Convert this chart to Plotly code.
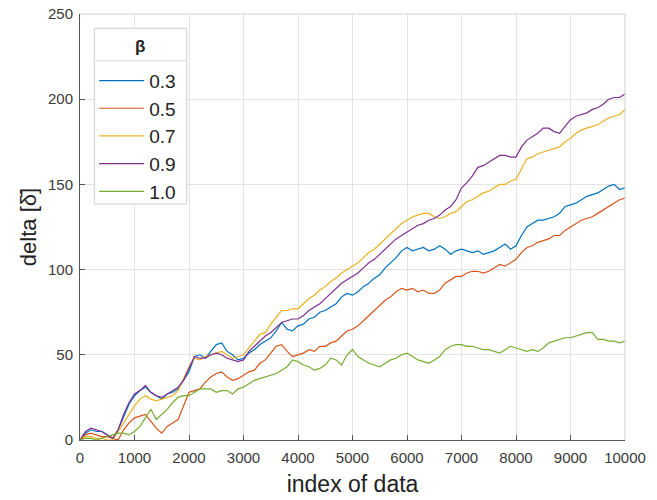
import plotly.graph_objects as go

x_index = list(range(0, 10001, 100))

beta_labels = ["0.3", "0.5", "0.7", "0.9", "1.0"]
legend_title = "β"

delta_b03 = [0, 4, 6, 5, 5, 3, 1, 6, 14, 21, 26, 29, 31, 28, 26, 24, 27, 28, 30, 35,
             40, 49, 50, 48, 52, 56, 57, 52, 50, 47, 48, 51, 53, 56, 58, 60, 64, 69, 65, 64,
             67, 68, 71, 72, 75, 76, 78, 80, 84, 86, 85, 87, 90, 92, 95, 97, 101, 104, 107, 111,
             113, 111, 112, 113, 111, 112, 114, 112, 109, 111, 112, 111, 110, 111, 109, 110, 111, 113, 115, 112,
             114, 120, 125, 127, 129, 129, 130, 131, 133, 137, 138, 139, 141, 143, 144, 145, 147, 149, 150, 147,
             148]

delta_b05 = [0, 3, 4, 3, 2, 2, 1, 0, 6, 10, 13, 14, 15, 11, 7, 4, 8, 10, 12, 20,
             28, 29, 30, 34, 37, 39, 40, 37, 35, 36, 38, 40, 41, 45, 47, 51, 55, 56, 52, 49,
             50, 51, 53, 52, 55, 55, 57, 58, 61, 64, 65, 67, 70, 73, 76, 79, 82, 84, 87, 89,
             88, 89, 87, 88, 86, 86, 88, 92, 94, 96, 96, 98, 99, 99, 98, 99, 101, 103, 102, 104,
             106, 110, 113, 114, 116, 117, 118, 120, 120, 123, 125, 127, 129, 130, 131, 133, 135, 137, 139, 141,
             142]

delta_b07 = [0, 2, 2, 1, 1, 0, 0, 5, 10, 15, 20, 24, 26, 24, 23, 24, 25, 26, 29, 36,
             43, 48, 47, 49, 50, 51, 52, 50, 48, 49, 50, 54, 58, 62, 63, 68, 72, 76, 76, 77,
             77, 80, 83, 85, 88, 90, 93, 95, 98, 100, 102, 104, 107, 110, 112, 115, 118, 121, 124, 127,
             129, 131, 132, 133, 133, 131, 130, 131, 133, 134, 137, 140, 141, 143, 145, 146, 148, 150, 150, 152,
             153, 159, 165, 166, 168, 169, 170, 171, 172, 175, 177, 180, 182, 183, 184, 185, 187, 189, 190, 191,
             194]

delta_b09 = [0, 5, 7, 6, 5, 3, 1, 6, 15, 22, 27, 29, 32, 28, 26, 25, 27, 29, 31, 35,
             42, 49, 48, 48, 50, 51, 50, 48, 47, 46, 47, 52, 55, 58, 61, 63, 66, 69, 70, 71,
             71, 73, 76, 78, 80, 83, 86, 89, 92, 94, 96, 98, 101, 104, 106, 109, 112, 115, 118, 120,
             122, 124, 126, 127, 129, 130, 132, 135, 137, 141, 148, 151, 155, 160, 161, 163, 165, 167, 167, 166,
             166, 172, 176, 178, 180, 183, 183, 181, 180, 184, 188, 190, 191, 192, 194, 195, 197, 200, 201, 201,
             203]

delta_b10 = [0, 1, 1, 0, 1, 2, 3, 4, 4, 3, 5, 8, 13, 18, 12, 15, 18, 22, 25, 26,
             26, 28, 30, 30, 30, 28, 29, 29, 27, 30, 31, 33, 35, 36, 37, 38, 39, 41, 43, 47,
             46, 44, 43, 41, 42, 44, 48, 47, 44, 50, 53, 49, 47, 45, 44, 43, 45, 47, 48, 50,
             51, 49, 47, 46, 45, 47, 49, 53, 55, 56, 56, 55, 55, 54, 53, 53, 52, 51, 53, 55,
             54, 53, 52, 53, 52, 54, 57, 58, 59, 60, 60, 61, 62, 63, 63, 59, 59, 58, 58, 57,
             58]

series = [delta_b03, delta_b05, delta_b07, delta_b09, delta_b10]
colors = ["#0072BD", "#D95319", "#EDB120", "#7E2F8E", "#77AC30"]

x_ticks = list(range(0, 10001, 1000))
x_ticktext = [str(v) for v in x_ticks]
y_ticks = list(range(0, 251, 50))

FONT = "Liberation Sans, Arial, sans-serif"

fig = go.Figure()
for lab, ys, c in zip(beta_labels, series, colors):
    fig.add_trace(go.Scatter(x=x_index, y=ys, mode="lines", name=lab,
                             line=dict(color=c, width=1.2)))

axis_common = dict(
    showgrid=True, gridcolor="#e3e3e3", gridwidth=1,
    showline=True, linecolor="#555555", linewidth=1,
    ticks="inside", ticklen=5, tickcolor="#555555",
    tickfont=dict(family=FONT, size=15, color="#3a3a3a"),
    zeroline=False, automargin=False,
)

fig.update_layout(
    width=657, height=500,
    margin=dict(l=80, r=32, t=14, b=60),
    paper_bgcolor="white", plot_bgcolor="white",
    font=dict(family=FONT),
    xaxis=dict(range=[0, 10000], tickvals=x_ticks, ticktext=x_ticktext, ticklabelstandoff=4,
               title=dict(text="index of data", font=dict(family=FONT, size=23, color="#222"), standoff=10),
               **axis_common),
    yaxis=dict(range=[0, 250], tickvals=y_ticks, ticklabelstandoff=3,
               title=dict(text="delta [δ\u0304]", font=dict(family=FONT, size=22, color="#222"), standoff=5),
               **axis_common),
    legend=dict(
        x=0.026, y=0.888, xanchor="left", yanchor="top",
        bgcolor="rgba(0,0,0,0)", borderwidth=0,
        font=dict(family=FONT, size=19, color="#222"),
        itemwidth=45,
        tracegroupgap=0,
    ),
    showlegend=True,
)

# light top and right box edges (MATLAB style)
fig.add_shape(type="line", xref="paper", yref="paper", x0=0, x1=1, y0=1, y1=1,
              line=dict(color="#d0d0d0", width=1))
fig.add_shape(type="line", xref="paper", yref="paper", x0=1, x1=1, y0=0, y1=1,
              line=dict(color="#d0d0d0", width=1))

# legend frame with title cell and separator (MATLAB legend look)
fig.add_shape(type="rect", xref="paper", yref="paper", x0=0.0262, x1=0.1958, y0=0.554, y1=0.9664,
              line=dict(color="#cfcfcf", width=1), fillcolor="white", layer="above")
fig.add_shape(type="line", xref="paper", yref="paper", x0=0.0262, x1=0.1958, y0=0.8904, y1=0.8904,
              line=dict(color="#d8d8d8", width=1), layer="above")
fig.add_annotation(xref="paper", yref="paper", x=0.111, y=0.9233, text="<b>" + legend_title + "</b>",
                   showarrow=False, xanchor="center", yanchor="middle",
                   font=dict(family=FONT, size=17, color="#222"))

fig.write_html("out.html", config={"displayModeBar": False},
               post_script="document.body.style.margin='0px';")
